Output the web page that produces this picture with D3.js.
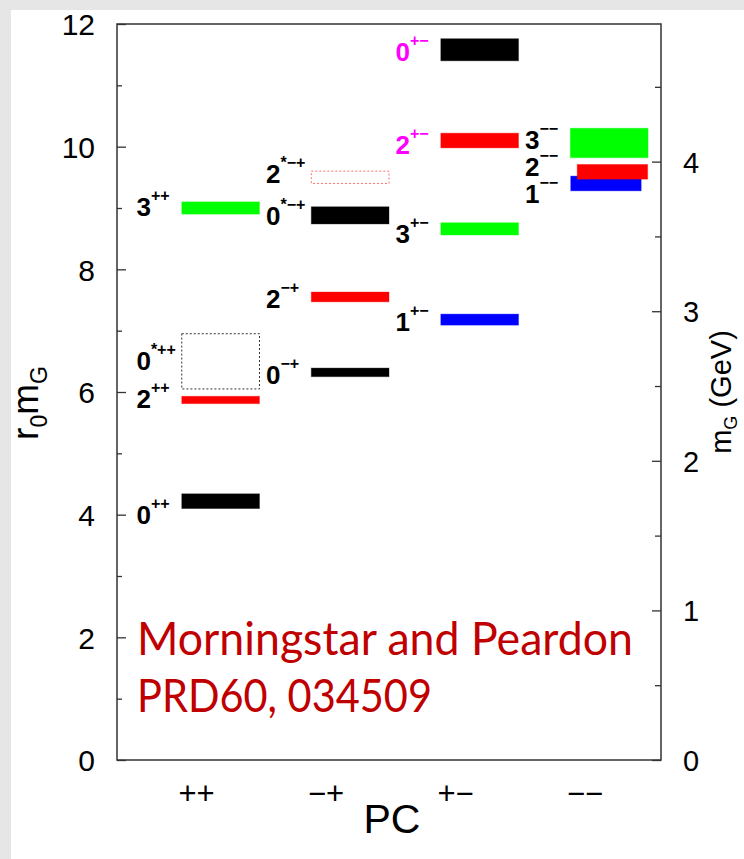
<!DOCTYPE html>
<meta charset="utf-8">
<style type="text/css">
  body {
    margin: 0;
    background: #e6e6e6;
  }
  .lbl {
    font-family: "Liberation Sans", Arial, sans-serif;
    font-weight: bold;
  }
</style>
<body>
</body>
<script src="https://d3js.org/d3.v7.min.js"></script>
<script>
  // glueball spectrum, r0*mG by PC sector
  var categories = ["++", "\u2212+", "+\u2212", "\u2212\u2212"];
  var pcSup = ["++", "\u2212+", "+\u2212", "\u2212\u2212"];

  var glueJ    = [0, 2, 0, 3,    0, 2, 0, 2,    0, 2, 3, 1,    3, 1, 2];
  var gluePC   = [0, 0, 0, 0,    1, 1, 1, 1,    2, 2, 2, 2,    3, 3, 3];
  var glueStar = [0, 0, 1, 0,    0, 0, 1, 1,    0, 0, 0, 0,    0, 0, 0];
  // excited states with only an estimate: drawn as open boxes
  var glueOpen = [0, 0, 1, 0,    0, 0, 0, 1,    0, 0, 0, 0,    0, 0, 0];
  var glueMass = [4.22, 5.87, 6.50, 9.00,   6.32, 7.55, 8.88, 9.50,   11.58, 10.10, 8.66, 7.18,   10.06, 9.40, 9.59];
  var glueErr  = [0.12, 0.06, 0.45, 0.10,   0.07, 0.08, 0.14, 0.10,   0.18, 0.12, 0.10, 0.09,   0.24, 0.12, 0.12];
  var labelAt  = [3.85, 5.74, 6.36, 8.87,   6.13, 7.37, 8.72, 9.41,   11.40, 9.88, 8.43, 6.99,   9.96, 9.08, 9.52];
  var exotic   = [0, 0, 0, 0,    0, 0, 0, 0,    1, 1, 0, 0,    0, 0, 0];
  // staggered boxes in the -- column (1-- and 2-- overlap)
  var stagger  = [0, 0, 0, 0,    0, 0, 0, 0,    0, 0, 0, 0,    0, -0.025, 0.025];

  var leftTicks = [0, 2, 4, 6, 8, 10, 12];
  var rightTicks = [0, 1, 2, 3, 4];
  var r0inv = 0.41; // GeV

  var W = 744, H = 859;
  var margin = {top: 24, left: 117, right: 83, bottom: 99};
  var width = W - margin.left - margin.right,
    height = H - margin.top - margin.bottom;

  var x = d3.scaleLinear().domain([-0.8, 3.4]).range([0, width]);
  var y = d3.scaleLinear().domain([0, 12]).range([height, 0]);
  var yG = d3.scaleLinear().domain([0, 12 * r0inv]).range([height, 0]);
  var color = d3.scaleOrdinal().domain([0, 1, 2, 3]).range(["#000000", "#0000ff", "#ff0000", "#00ff00"]);

  var data = glueJ.map(function(j, i) {
    return {j: j, pc: gluePC[i], star: glueStar[i], open: glueOpen[i], m: glueMass[i], e: glueErr[i],
      at: labelAt[i], exotic: exotic[i], sh: stagger[i]};
  });

  var svg = d3.select("body").append("svg")
    .attr("width", W)
    .attr("height", H)
    .style("display", "block");

  svg.append("rect")
    .attr("x", 11).attr("y", 10)
    .attr("width", W - 11).attr("height", H - 10)
    .attr("fill", "#ffffff");

  var g = svg.append("g")
    .attr("transform", "translate(" + margin.left + "," + margin.top + ")");

  // bars
  var half = 0.3;
  function hw(d) { return d.sh ? half - 0.028 : half; }
  g.selectAll(".bar")
    .data(data)
    .enter().append("rect")
    .attr("class", "bar")
    .attr("x", function(d) { return x(d.pc + d.sh - hw(d)); })
    .attr("width", function(d) { return x(2 * hw(d)) - x(0); })
    .attr("y", function(d) { return y(d.m + d.e); })
    .attr("height", function(d) { return y(d.m - d.e) - y(d.m + d.e); })
    .attr("fill", function(d) { return d.open ? "none" : color(d.j); })
    .attr("stroke", function(d) {
      if (d.open) return d.j === 2 ? "#ff7070" : "#333";
      return color(d.j);
    })
    .attr("stroke-opacity", function(d) { return d.open ? 1 : 0.35; })
    .attr("stroke-width", 1)
    .attr("stroke-dasharray", function(d) { return d.open ? "2,2" : null; });

  // state labels J^PC
  var lbl = g.selectAll(".lbl")
    .data(data)
    .enter().append("text")
    .attr("class", "lbl")
    .attr("x", function(d) { return x(d.pc - 0.65); })
    .attr("y", function(d) { return y(d.at); })
    .attr("fill", function(d) { return d.exotic ? "#ff00ff" : "#000"; });
  lbl.append("tspan")
    .attr("font-size", 26)
    .text(function(d) { return d.j; });
  lbl.append("tspan")
    .attr("font-size", 16)
    .attr("dy", -15)
    .text(function(d) { return (d.star ? "*" : "") + pcSup[d.pc]; });

  // frame
  g.append("rect")
    .attr("width", width)
    .attr("height", height)
    .attr("fill", "none")
    .attr("stroke", "#333")
    .attr("stroke-width", 1.5);

  function styleAxis(sel, size) {
    sel.select(".domain").remove();
    sel.selectAll(".tick line").attr("stroke", "#333").attr("stroke-width", 1.3);
    sel.attr("font-family", "Liberation Sans, Arial, sans-serif").attr("font-size", size);
  }

  g.append("g")
    .call(d3.axisLeft(y).tickValues(d3.range(1, 12, 2)).tickSize(-5).tickFormat(""))
    .call(styleAxis, 30);
  g.append("g")
    .call(d3.axisLeft(y).tickValues(leftTicks).tickSize(-9).tickPadding(22))
    .call(styleAxis, 30)
    .selectAll("text").attr("dy", "0.36em");

  var gr = g.append("g").attr("transform", "translate(" + width + ",0)");
  gr.append("g")
    .call(d3.axisRight(yG).tickValues([0.5, 1.5, 2.5, 3.5, 4.5]).tickSize(-6).tickFormat(""))
    .call(styleAxis, 28);
  gr.append("g")
    .call(d3.axisRight(yG).tickValues(rightTicks).tickSize(-9).tickPadding(22).tickFormat(d3.format("d")))
    .call(styleAxis, 29)
    .selectAll("text").attr("dy", "0.36em");

  g.append("g")
    .attr("transform", "translate(0," + height + ")")
    .call(d3.axisBottom(x).tickValues(categories.map(function(c, i) { return i - 0.19; }))
      .tickSize(0).tickPadding(22)
      .tickFormat(function(d, i) { return categories[i]; }))
    .call(styleAxis, 31);

  // axis titles
  var yt = svg.append("text")
    .attr("transform", "translate(38," + 403 + ") rotate(-90)")
    .attr("text-anchor", "middle")
    .attr("font-family", "Liberation Sans, Arial, sans-serif")
    .attr("font-size", 37);
  yt.append("tspan").text("r");
  yt.append("tspan").attr("font-size", 23).attr("dy", 9).text("0");
  yt.append("tspan").attr("dy", -9).text("m");
  yt.append("tspan").attr("font-size", 23).attr("dy", 9).text("G");

  var rt = svg.append("text")
    .attr("transform", "translate(731," + 392 + ") rotate(-90)")
    .attr("text-anchor", "middle")
    .attr("font-family", "Liberation Sans, Arial, sans-serif")
    .attr("font-size", 29);
  rt.append("tspan").text("m");
  rt.append("tspan").attr("font-size", 18).attr("dy", 6).text("G");
  rt.append("tspan").attr("dy", -6).text(" (GeV)");

  svg.append("text")
    .attr("x", 392)
    .attr("y", 833)
    .attr("text-anchor", "middle")
    .attr("font-family", "Liberation Sans, Arial, sans-serif")
    .attr("font-size", 41)
    .text("PC");

  // citation
  var cite = ["Morningstar and Peardon", "PRD60, 034509"];
  var citeW = [496, 295];
  svg.selectAll(".cite")
    .data(cite)
    .enter().append("text")
    .attr("class", "cite")
    .attr("x", 137)
    .attr("y", function(d, i) { return 655 + i * 57; })
    .attr("font-family", "Lato, sans-serif")
    .attr("font-size", 46)
    .attr("fill", "#c00000")
    .attr("textLength", function(d, i) { return citeW[i]; })
    .attr("lengthAdjust", "spacingAndGlyphs")
    .text(function(d) { return d; });
</script>
